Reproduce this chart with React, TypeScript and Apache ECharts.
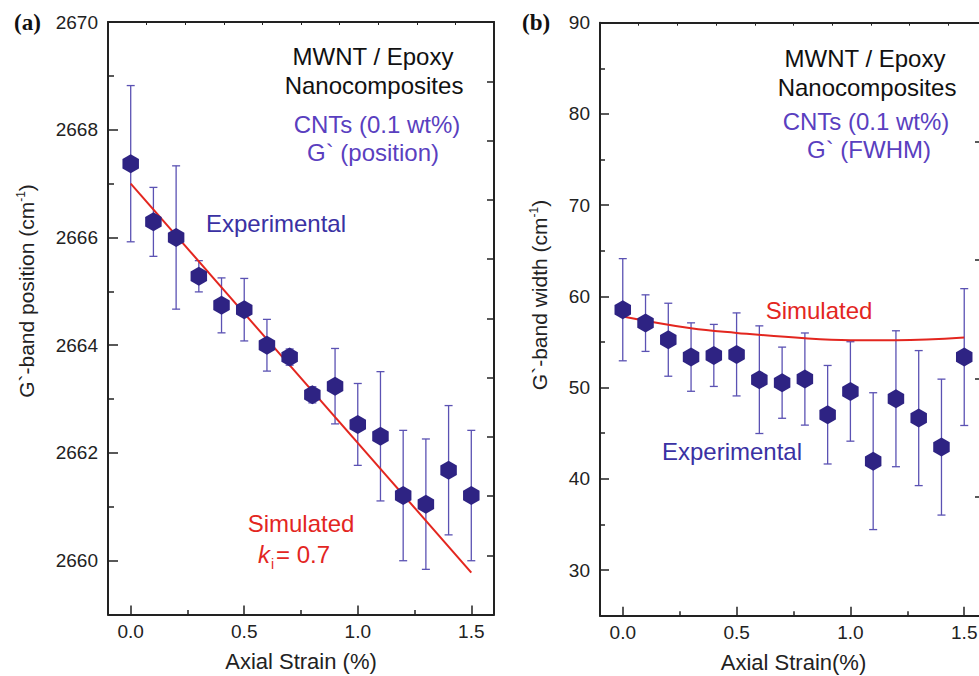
import React, { useEffect, useRef } from "react";
import * as echarts from "echarts";

const strain = [0, 0.1, 0.2, 0.3, 0.4, 0.5, 0.6, 0.7, 0.8, 0.9, 1.0, 1.1, 1.2, 1.3, 1.4, 1.5];
const posMean = [2667.37, 2666.29, 2666.0, 2665.28, 2664.74, 2664.66, 2664.0, 2663.78, 2663.08, 2663.24, 2662.53, 2662.31, 2661.21, 2661.05, 2661.68, 2661.21];
const posErr = [1.45, 0.64, 1.33, 0.29, 0.51, 0.58, 0.48, 0.15, 0.15, 0.7, 0.76, 1.2, 1.21, 1.21, 1.2, 1.21];
const fwhmMean = [58.54, 57.07, 55.25, 53.35, 53.53, 53.64, 50.87, 50.54, 50.94, 47.03, 49.58, 41.94, 48.78, 46.66, 43.48, 53.35];
const fwhmErr = [5.6, 3.1, 4.0, 3.75, 3.4, 4.55, 5.9, 3.9, 5.05, 5.4, 5.45, 7.5, 7.45, 7.4, 7.45, 7.5];
const simPosX = [0, 1.5];
const simPos = [2667.0, 2659.78];
const simFwhmX = [0, 0.3, 0.5, 0.8, 1.0, 1.2, 1.5];
const simFwhm = [57.8, 56.5, 56.0, 55.4, 55.2, 55.2, 55.5];

const xMajor = [0, 0.5, 1.0, 1.5];
const xMinor = [0.25, 0.75, 1.25];
const posMajor = [2660, 2662, 2664, 2666, 2668, 2670];
const posMinor = [2661, 2663, 2665, 2667, 2669];
const fwhmMajor = [30, 40, 50, 60, 70, 80, 90];
const fwhmMinor = [35, 45, 55, 65, 75, 85];

const FONT = "'Liberation Sans', Arial, sans-serif";
const AXIS = "#222";
const MARK = "#2e2383";
const ERR = "#5b52b3";
const RED = "#e3261f";
const PURPLE = "#5a3fbf";
const BLUE = "#3a31a3";
const HEX = "path://M0,-1 L0.866,-0.5 L0.866,0.5 L0,1 L-0.866,0.5 L-0.866,-0.5 Z";
const ANN = 24;

function errRender(params: any, api: any) {
  const x = api.value(0);
  const lo = api.value(2);
  const hi = api.value(3);
  const a = api.coord([x, hi]);
  const b = api.coord([x, lo]);
  const w = 4;
  const style = { stroke: ERR, lineWidth: 1.3, fill: "none" };
  return {
    type: "group",
    children: [
      { type: "line", shape: { x1: a[0], y1: a[1], x2: b[0], y2: b[1] }, style },
      { type: "line", shape: { x1: a[0] - w, y1: a[1], x2: a[0] + w, y2: a[1] }, style },
      { type: "line", shape: { x1: b[0] - w, y1: b[1], x2: b[0] + w, y2: b[1] }, style },
    ],
  };
}

function xAxes(grid: number, name: string) {
  return [
    {
      type: "value", gridIndex: grid, position: "bottom", min: -0.1, max: 1.6,
      axisLine: { show: true, onZero: false, lineStyle: { color: AXIS, width: 2 } },
      axisTick: { show: true, inside: true, length: 9, customValues: xMajor, lineStyle: { color: AXIS, width: 1.5 } },
      axisLabel: { show: true, customValues: xMajor, formatter: (v: number) => v.toFixed(1), fontSize: 19, color: AXIS, margin: 7, fontFamily: FONT },
      splitLine: { show: false },
      name, nameLocation: "middle", nameGap: 36,
      nameTextStyle: { fontSize: 22, color: AXIS, fontFamily: FONT },
    },
    {
      type: "value", gridIndex: grid, position: "bottom", min: -0.1, max: 1.6,
      axisLine: { show: false, onZero: false },
      axisTick: { show: true, inside: true, length: 4.5, customValues: xMinor, lineStyle: { color: AXIS, width: 1.5 } },
      axisLabel: { show: false },
      splitLine: { show: false },
    },
    {
      type: "value", gridIndex: grid, position: "top", min: 0, max: 10, interval: 1,
      axisLine: { show: true, onZero: false, lineStyle: { color: AXIS, width: 2 } },
      axisTick: { show: true, inside: true, length: 3, lineStyle: { color: AXIS, width: 1 } },
      axisLabel: { show: false },
      splitLine: { show: false },
    },
  ];
}

function yAxes(grid: number, min: number, max: number, major: number[], minor: number[], rightMax: number, rightLen: number, majLen: number, minLen: number) {
  return [
    {
      type: "value", gridIndex: grid, position: "left", min, max,
      axisLine: { show: true, onZero: false, lineStyle: { color: AXIS, width: 2 } },
      axisTick: { show: true, inside: true, length: majLen, customValues: major, lineStyle: { color: AXIS, width: 1.5 } },
      axisLabel: { show: true, customValues: major, formatter: (v: number) => String(v), fontSize: 19, color: AXIS, margin: 10, fontFamily: FONT },
      splitLine: { show: false },
    },
    {
      type: "value", gridIndex: grid, position: "left", min, max,
      axisLine: { show: false, onZero: false },
      axisTick: { show: true, inside: true, length: minLen, customValues: minor, lineStyle: { color: AXIS, width: 1.5 } },
      axisLabel: { show: false },
      splitLine: { show: false },
    },
    {
      type: "value", gridIndex: grid, position: "right", min: 0, max: rightMax, interval: 1,
      axisLine: { show: true, onZero: false, lineStyle: { color: AXIS, width: 2 } },
      axisTick: { show: true, inside: true, length: rightLen, lineStyle: { color: AXIS, width: 1.5 } },
      axisLabel: { show: false },
      splitLine: { show: false },
    },
  ];
}

function txt(x: number, y: number, text: string, fill: string, size = ANN, align = "center", extra: any = {}) {
  return {
    type: "text", x, y, silent: true,
    style: { text, fill, fontSize: size, fontFamily: FONT, align, textAlign: align, verticalAlign: "middle", textVerticalAlign: "middle", ...extra },
  };
}

function yTitle(x: number, y: number, label: string) {
  return {
    type: "text", x, y, rotation: Math.PI / 2, silent: true,
    style: {
      text: `{a|${label} (cm}{s|-1}{a|)}`,
      align: "center", textAlign: "center", verticalAlign: "middle", textVerticalAlign: "middle",
      rich: {
        a: { fontSize: 21, fontFamily: FONT, fill: AXIS, lineHeight: 23, verticalAlign: "middle" },
        s: { fontSize: 12, fontFamily: FONT, fill: AXIS, lineHeight: 12, verticalAlign: "top" },
      },
    },
  };
}

export default function App() {
  const ref = useRef<HTMLDivElement>(null);
  useEffect(() => {
    if (!ref.current) return;
    const chart = echarts.init(ref.current, undefined, { renderer: "svg" });
    const posData = strain.map((x, i) => [x, posMean[i], posMean[i] - posErr[i], posMean[i] + posErr[i]]);
    const fwhmData = strain.map((x, i) => [x, fwhmMean[i], fwhmMean[i] - fwhmErr[i], fwhmMean[i] + fwhmErr[i]]);
    const serif = "'Liberation Serif', 'Times New Roman', serif";
    chart.setOption({
      animation: false,
      backgroundColor: "#fff",
      textStyle: { fontFamily: FONT },
      grid: [
        { left: 108, top: 22, width: 386, height: 592.6, containLabel: false, outerBoundsMode: "none" },
        { left: 600, top: 22.7, width: 387, height: 593, containLabel: false, outerBoundsMode: "none" },
      ],
      xAxis: [...xAxes(0, "Axial Strain (%)"), ...xAxes(1, "Axial Strain(%)")],
      yAxis: [
        ...yAxes(0, 2659, 2670, posMajor, posMinor, 10, 7, 10, 6),
        ...yAxes(1, 25, 90, fwhmMajor, fwhmMinor, 5, 12, 9, 5),
      ],
      series: [
        {
          type: "custom", xAxisIndex: 0, yAxisIndex: 0, renderItem: errRender,
          encode: { x: 0, y: [1, 2, 3] }, data: posData, z: 1, silent: true,
        },
        {
          type: "line", xAxisIndex: 0, yAxisIndex: 0, showSymbol: false, symbol: "none",
          data: simPosX.map((x, i) => [x, simPos[i]]),
          lineStyle: { color: RED, width: 2 }, z: 2, silent: true,
        },
        {
          type: "scatter", xAxisIndex: 0, yAxisIndex: 0, symbol: HEX, symbolSize: [16.5, 19],
          data: posData.map((d) => [d[0], d[1]]), itemStyle: { color: MARK, opacity: 1 }, z: 3, silent: true,
        },
        {
          type: "custom", xAxisIndex: 3, yAxisIndex: 3, renderItem: errRender,
          encode: { x: 0, y: [1, 2, 3] }, data: fwhmData, z: 1, silent: true,
        },
        {
          type: "line", xAxisIndex: 3, yAxisIndex: 3, showSymbol: false, symbol: "none", smooth: 0.4,
          data: simFwhmX.map((x, i) => [x, simFwhm[i]]),
          lineStyle: { color: RED, width: 2 }, z: 2, silent: true,
        },
        {
          type: "scatter", xAxisIndex: 3, yAxisIndex: 3, symbol: HEX, symbolSize: [16.5, 19],
          data: fwhmData.map((d) => [d[0], d[1]]), itemStyle: { color: MARK, opacity: 1 }, z: 3, silent: true,
        },
      ],
      graphic: [
        {
          type: "text", x: 14, y: 22, silent: true,
          style: { text: "(a)", fill: "#111", fontSize: 23, fontWeight: "bold", fontFamily: serif, align: "left", textAlign: "left", verticalAlign: "middle", textVerticalAlign: "middle" },
        },
        {
          type: "text", x: 522, y: 22, silent: true,
          style: { text: "(b)", fill: "#111", fontSize: 23, fontWeight: "bold", fontFamily: serif, align: "left", textAlign: "left", verticalAlign: "middle", textVerticalAlign: "middle" },
        },
        yTitle(26, 291, "G`-band position"),
        yTitle(539, 295, "G`-band width"),
        txt(373, 56, "MWNT / Epoxy", "#111"),
        txt(374, 85, "Nanocomposites", "#111"),
        txt(377, 124, "CNTs (0.1 wt%)", PURPLE),
        txt(373, 152, "G` (position)", PURPLE),
        txt(276, 223, "Experimental", BLUE),
        txt(301, 523, "Simulated", RED),
        txt(258, 554, "k", RED, ANN, "left", { fontStyle: "italic" }),
        txt(271, 564, "i", RED, 14, "left"),
        txt(276, 554, "= 0.7", RED, ANN, "left"),
        txt(865, 58, "MWNT / Epoxy", "#111"),
        txt(867, 87, "Nanocomposites", "#111"),
        txt(866, 121, "CNTs (0.1 wt%)", PURPLE),
        txt(869, 149, "G` (FWHM)", PURPLE),
        txt(732, 451, "Experimental", BLUE),
        txt(819, 310, "Simulated", RED),
      ],
    });
    return () => chart.dispose();
  }, []);
  return <div ref={ref} style={{ position: "absolute", left: 0, top: 0, width: 979, height: 676, overflow: "hidden" }} />;
}
